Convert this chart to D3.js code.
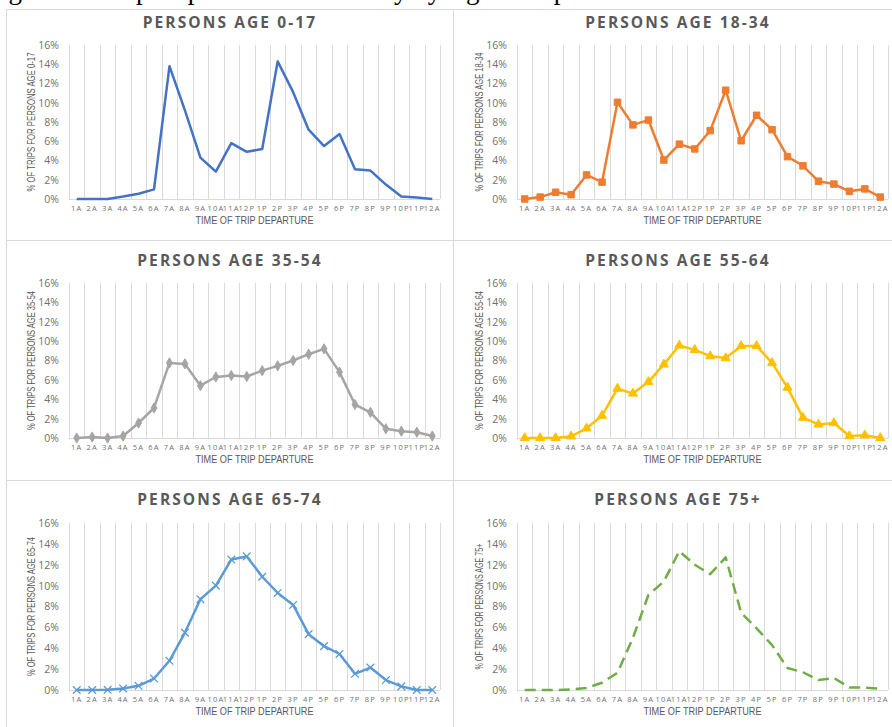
<!DOCTYPE html>
<html>
<head>
<meta charset="utf-8">
<script src="https://cdn.jsdelivr.net/npm/d3@7"></script>
<style>
  body { margin: 0; background: #fff; }
  svg { display: block; }
</style>
</head>
<body>
<div id="chart"></div>
<script>
(function() {
  var width = 892,
      height = 727;

  // hours of departure, 1am .. midnight
  var hours = ["1A","2A","3A","4A","5A","6A","7A","8A","9A","10A","11A","12P",
               "1P","2P","3P","4P","5P","6P","7P","8P","9P","10P","11P","12A"];
  var yTicks = [0, 2, 4, 6, 8, 10, 12, 14, 16];

  var age0to17  = [0, 0, 0, 0.25, 0.55, 1.0, 13.8, 9.2, 4.3, 2.85, 5.8, 4.9,
                   5.2, 14.3, 11.1, 7.2, 5.5, 6.75, 3.1, 2.95, 1.5, 0.25, 0.15, 0];
  var age18to34 = [0, 0.2, 0.7, 0.45, 2.5, 1.75, 10.05, 7.7, 8.2, 4.05, 5.7, 5.2,
                   7.1, 11.3, 6.05, 8.7, 7.2, 4.4, 3.45, 1.85, 1.55, 0.8, 1.05, 0.2];
  var age35to54 = [0, 0.1, 0, 0.2, 1.55, 3.1, 7.75, 7.65, 5.4, 6.3, 6.45, 6.35,
                   6.95, 7.45, 8.0, 8.65, 9.2, 6.8, 3.45, 2.65, 0.95, 0.7, 0.6, 0.2];
  var age55to64 = [0, 0, 0, 0.17, 1.0, 2.3, 5.1, 4.6, 5.8, 7.6, 9.55, 9.1,
                   8.45, 8.25, 9.5, 9.5, 7.75, 5.2, 2.1, 1.4, 1.55, 0.2, 0.28, 0];
  var age65to74 = [0, 0, 0.02, 0.15, 0.4, 1.1, 2.8, 5.5, 8.7, 10.0, 12.5, 12.8,
                   10.85, 9.3, 8.15, 5.35, 4.2, 3.45, 1.55, 2.15, 0.95, 0.35, 0, 0];
  var age75plus = [0, 0, 0, 0.05, 0.2, 0.7, 1.65, 5.0, 9.1, 10.4, 13.3, 12.0,
                   11.1, 12.7, 7.4, 5.9, 4.3, 2.1, 1.7, 0.95, 1.15, 0.25, 0.22, 0.12];

  var panels = [
    { title: "PERSONS AGE 0-17",  label: "0-17",  values: age0to17,  color: "#4472c4", marker: null,      row: 0, col: 0 },
    { title: "PERSONS AGE 18-34", label: "18-34", values: age18to34, color: "#ed7d31", marker: "square",  row: 0, col: 1 },
    { title: "PERSONS AGE 35-54", label: "35-54", values: age35to54, color: "#a5a5a5", marker: "diamond", row: 1, col: 0 },
    { title: "PERSONS AGE 55-64", label: "55-64", values: age55to64, color: "#ffc000", marker: "triangle",row: 1, col: 1 },
    { title: "PERSONS AGE 65-74", label: "65-74", values: age65to74, color: "#5b9bd5", marker: "x",       row: 2, col: 0 },
    { title: "PERSONS AGE 75+",   label: "75+",   values: age75plus, color: "#70ad47", marker: null, dashed: true, row: 2, col: 1 }
  ];

  // layout of the 2x3 grid (rows are not all the same height)
  var colX = [7, 455];
  var rows = [
    { titleY: 28,  top: 45,  bottom: 199 },
    { titleY: 266, top: 283, bottom: 438 },
    { titleY: 505, top: 523, bottom: 690 }
  ];
  var plotOffset = 62,
      plotWidth = 371;

  var svg = d3.select("#chart")
    .append("svg")
    .attr("width", width)
    .attr("height", height);

  // caption of the page, only its lower edge shows above the panels
  svg.append("text")
    .attr("x", -14)
    .attr("y", -1)
    .attr("font-family", "Liberation Serif, serif")
    .attr("font-size", 27)
    .attr("fill", "#000")
    .text("Figure 14: Trip Departure Time of Day by Age Group");

  // panel frames
  var frame = "#d9d9d9";
  svg.append("rect").attr("x", 0).attr("y", 9).attr("width", width).attr("height", height)
    .attr("fill", "#fff");
  svg.append("line").attr("x1", 6.5).attr("x2", width).attr("y1", 9.5).attr("y2", 9.5).attr("stroke", frame);
  svg.append("line").attr("x1", 6.5).attr("x2", 6.5).attr("y1", 9.5).attr("y2", height).attr("stroke", frame);
  svg.append("line").attr("x1", 453.5).attr("x2", 453.5).attr("y1", 9.5).attr("y2", height).attr("stroke", frame);
  [240.5, 480.5].forEach(function(y) {
    svg.append("line").attr("x1", 6.5).attr("x2", width).attr("y1", y).attr("y2", y).attr("stroke", frame);
  });

  var textColor = "#595959";

  panels.forEach(function(p) {
    var r = rows[p.row];
    var left = colX[p.col] + plotOffset;

    var x = d3.scaleBand()
      .domain(hours)
      .range([left, left + plotWidth]);

    var y = d3.scaleLinear()
      .domain([0, 16])
      .range([r.bottom, r.top]);

    var g = svg.append("g");

    // title
    g.append("text")
      .attr("x", colX[p.col] + 223)
      .attr("y", r.titleY)
      .attr("text-anchor", "middle")
      .attr("font-family", "Open Sans, sans-serif")
      .attr("font-weight", "bold")
      .attr("font-size", 15.5)
      .attr("letter-spacing", 2.1)
      .attr("fill", textColor)
      .text(p.title);

    // vertical gridlines between categories
    var bounds = hours.map(function(h) { return x(h); }).concat([left + plotWidth]);
    g.selectAll(".grid")
      .data(bounds)
      .enter().append("line")
      .attr("class", "grid")
      .attr("x1", function(d) { return Math.round(d) + 0.5; })
      .attr("x2", function(d) { return Math.round(d) + 0.5; })
      .attr("y1", y(16))
      .attr("y2", y(0))
      .attr("stroke", "#d9d9d9")
      .attr("stroke-width", 1);

    g.append("line")
      .attr("x1", left).attr("x2", left + plotWidth)
      .attr("y1", Math.round(y(0)) + 0.5).attr("y2", Math.round(y(0)) + 0.5)
      .attr("stroke", "#d9d9d9");

    // y axis
    var yAxis = d3.axisLeft(y)
      .tickValues(yTicks)
      .tickFormat(function(d) { return d + "%"; })
      .tickSize(0)
      .tickPadding(10);

    var ya = g.append("g")
      .attr("transform", "translate(" + left + ",0)")
      .call(yAxis);
    ya.select(".domain").remove();
    ya.selectAll("text")
      .attr("font-family", "Open Sans, sans-serif")
      .attr("font-size", 10.5)
      .attr("fill", "#707070");

    // x axis
    var xAxis = d3.axisBottom(x)
      .tickSize(0)
      .tickPadding(7);

    var xa = g.append("g")
      .attr("transform", "translate(0," + y(0) + ")")
      .call(xAxis);
    xa.select(".domain").remove();
    xa.selectAll("text")
      .attr("font-family", "Open Sans, sans-serif")
      .attr("font-size", 7.5)
      .attr("letter-spacing", 1.2)
      .attr("fill", "#707070");

    // axis titles
    g.append("text")
      .attr("x", left + plotWidth / 2)
      .attr("y", r.bottom + 25)
      .attr("text-anchor", "middle")
      .attr("font-family", "Liberation Sans, sans-serif")
      .attr("font-size", 10.5)
      .attr("textLength", 118)
      .attr("lengthAdjust", "spacingAndGlyphs")
      .attr("fill", textColor)
      .text("TIME OF TRIP DEPARTURE");

    g.append("text")
      .attr("transform", "translate(" + (colX[p.col] + 28) + "," + ((r.top + r.bottom) / 2) + ") rotate(-90)")
      .attr("text-anchor", "middle")
      .attr("font-family", "Liberation Sans, sans-serif")
      .attr("font-size", 10.5)
      .attr("textLength", p.label == "75+" ? 126 : 139)
      .attr("lengthAdjust", "spacingAndGlyphs")
      .attr("fill", textColor)
      .text("% OF TRIPS FOR PERSONS AGE " + p.label);

    // the series
    var cx = function(d, i) { return x(hours[i]) + x.bandwidth() / 2; };

    var line = d3.line()
      .x(cx)
      .y(function(d) { return y(d); });

    g.append("path")
      .datum(p.values)
      .attr("d", line)
      .attr("fill", "none")
      .attr("stroke", p.color)
      .attr("stroke-width", 2.5)
      .attr("stroke-linejoin", "round")
      .attr("stroke-dasharray", p.dashed ? "11,6" : null);

    if (p.marker) {
      var types = {
        square: [d3.symbolSquare, 42],
        diamond: [d3.symbolDiamond, 30],
        triangle: [d3.symbolTriangle, 36],
        x: [d3.symbolX, 40]
      };
      var sym = d3.symbol().type(types[p.marker][0]).size(types[p.marker][1]);

      g.selectAll(".marker")
        .data(p.values)
        .enter().append("path")
        .attr("class", "marker")
        .attr("d", sym)
        .attr("transform", function(d, i) { return "translate(" + cx(d, i) + "," + y(d) + ")"; })
        .attr("fill", p.marker == "x" ? "none" : p.color)
        .attr("stroke", p.color)
        .attr("stroke-width", p.marker == "x" ? 1.3 : 1);
    }
  });
})();
</script>
</body>
</html>
